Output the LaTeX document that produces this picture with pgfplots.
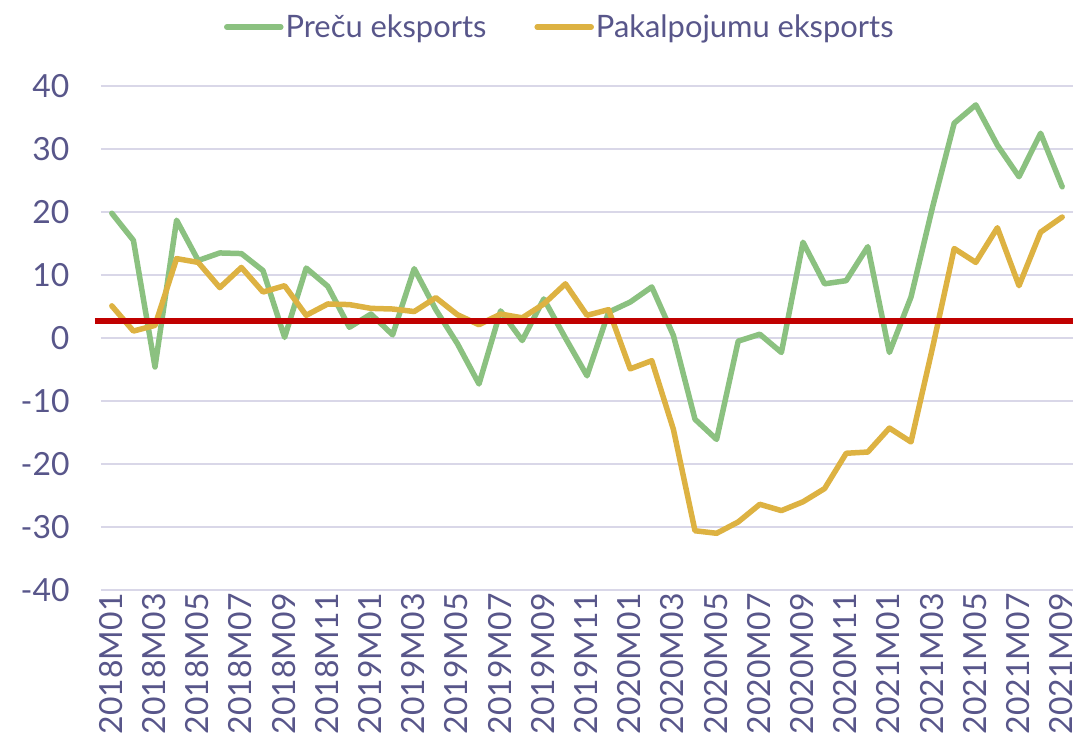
\documentclass[border=0pt]{standalone}
\usepackage{fontspec}
\setmainfont{Lato}
\usepackage{pgfplots}
\pgfplotsset{compat=1.18}
\definecolor{precu}{RGB}{139,193,128}
\definecolor{pakalp}{RGB}{221,178,66}
\definecolor{redline}{RGB}{192,0,0}
\definecolor{gridc}{RGB}{217,215,232}
\definecolor{txt}{RGB}{88,86,138}

\begin{document}
\begin{tikzpicture}
\begin{axis}[
    scale only axis,
    width=972bp, height=504bp,
    xmin=-0.5, xmax=44.5,
    ymin=-40, ymax=40,
    ytick={-40,-30,...,40},
    yticklabels={-40,-30,-20,-10,0,10,20,30,40},
    xtick={0,2,...,44},
    xticklabels={2018M01,2018M03,2018M05,2018M07,2018M09,2018M11,
                 2019M01,2019M03,2019M05,2019M07,2019M09,2019M11,
                 2020M01,2020M03,2020M05,2020M07,2020M09,2020M11,
                 2021M01,2021M03,2021M05,2021M07,2021M09},
    axis line style={draw=none},
    major tick length=0pt,
    ymajorgrids,
    grid style={line width=2bp, color=gridc},
    tick label style={font=\fontsize{32}{38}\selectfont, text=txt},
    xticklabel style={rotate=90, anchor=east, yshift=1bp},
    yticklabel style={xshift=-28bp},
    clip=false,
    legend style={at={(0.472,1.117)}, anchor=center, draw=none, fill=none,
        legend columns=2, font=\fontsize{31}{37}\selectfont, text=txt,
        /tikz/every even column/.append style={column sep=46bp}},
    legend image code/.code={\draw[#1] (0bp,0bp) -- (54bp,0bp);},
    every axis plot/.append style={line width=5.5bp, line join=round, line cap=round},
]
\addplot[precu] coordinates {
(0,19.8) (1,15.5) (2,-4.6) (3,18.7) (4,12.3) (5,13.5) (6,13.4) (7,10.7) (8,0.1)
(9,11.1) (10,8.2) (11,1.7) (12,3.8) (13,0.5) (14,11.0) (15,4.5) (16,-0.9)
(17,-7.3) (18,4.3) (19,-0.4) (20,6.2) (21,0.0) (22,-6.0) (23,4.1) (24,5.7)
(25,8.1) (26,0.4) (27,-12.9) (28,-16.1) (29,-0.5) (30,0.6) (31,-2.3) (32,15.2)
(33,8.6) (34,9.1) (35,14.5) (36,-2.3) (37,6.5) (38,20.8) (39,34.1) (40,37.0)
(41,30.6) (42,25.6) (43,32.5) (44,24.0)
};
\addlegendentry{Preču eksports}
\addplot[pakalp] coordinates {
(0,5.1) (1,1.1) (2,2.0) (3,12.6) (4,12.0) (5,8.0) (6,11.2) (7,7.3) (8,8.3)
(9,3.6) (10,5.4) (11,5.3) (12,4.7) (13,4.6) (14,4.2) (15,6.4) (16,3.7)
(17,2.1) (18,3.8) (19,3.2) (20,5.4) (21,8.6) (22,3.6) (23,4.5) (24,-4.9)
(25,-3.6) (26,-14.5) (27,-30.6) (28,-31.0) (29,-29.2) (30,-26.4) (31,-27.4)
(32,-26.0) (33,-23.9) (34,-18.3) (35,-18.1) (36,-14.3) (37,-16.5) (38,-1.5)
(39,14.2) (40,12.0) (41,17.5) (42,8.3) (43,16.8) (44,19.2)
};
\addlegendentry{Pakalpojumu eksports}
\addplot[redline, line cap=butt, forget plot] coordinates {(-0.78,2.7) (44.5,2.7)};
\end{axis}
\pgfresetboundingbox
\path ([shift={(-101bp,-161bp)}]current axis.south west) rectangle ([shift={(5bp,86bp)}]current axis.north east);
\end{tikzpicture}
\end{document}
